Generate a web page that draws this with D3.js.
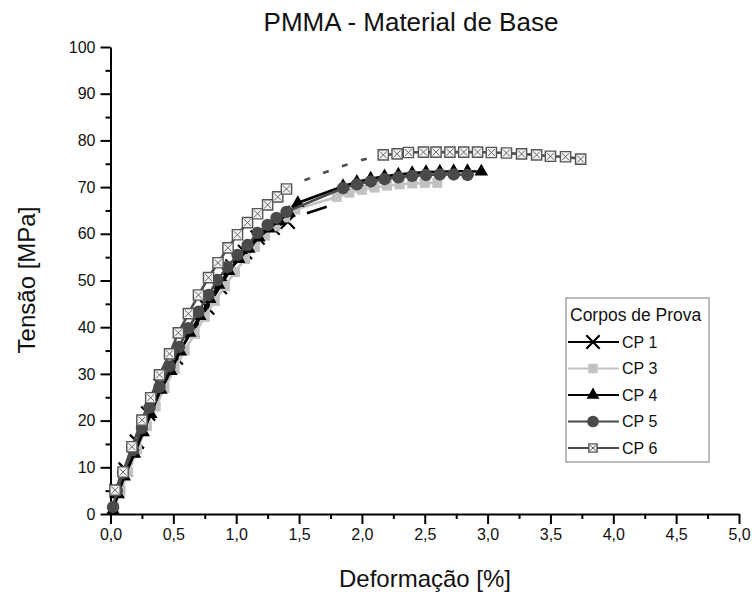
<!DOCTYPE html>
<html>
<head>
<meta charset="utf-8">
<script src="https://cdn.jsdelivr.net/npm/d3@7"></script>
<style>
  body { margin: 0; background: #fff; }
  svg text { font-family: "Liberation Sans", Arial, sans-serif; }
  .axis .domain, .axis line { stroke: #000; stroke-width: 2; }
  .axis text { font-size: 16px; fill: #111; }
</style>
</head>
<body>
<svg id="chart" width="752" height="594"></svg>
<script>
// ---- data ----
var seriesNames = ["CP 1", "CP 3", "CP 4", "CP 5", "CP 6"];
var xTicks = [0, 0.5, 1, 1.5, 2, 2.5, 3, 3.5, 4, 4.5, 5];
var xMinorTicks = [0.25, 0.75, 1.25, 1.75, 2.25, 2.75, 3.25, 3.75, 4.25, 4.75];
var yTicks = [0, 10, 20, 30, 40, 50, 60, 70, 80, 90, 100];
var yMinorTicks = [5, 15, 25, 35, 45, 55, 65, 75, 85, 95];

// strain [%] and stress [MPa] at each marker
var cp1Eps = [0.05, 0.12, 0.21, 0.30, 0.40, 0.52, 0.65, 0.77, 0.87, 0.97, 1.07, 1.17, 1.29, 1.41];
var cp1Sig = [5.0, 9.5, 15.5, 21.5, 27.5, 33.5, 39.3, 44.2, 48.6, 53.0, 56.1, 59.2, 61.3, 62.6];
var cp1GapEps = [1.56, 1.72];
var cp1GapSig = [64.4, 65.8];

var cp3Eps = [0.03, 0.08, 0.14, 0.21, 0.29, 0.36, 0.43, 0.51, 0.59, 0.67, 0.75, 0.83, 0.91, 0.99, 1.07, 1.15, 1.23, 1.31, 1.39, 1.47,
              1.80, 1.90, 2.00, 2.10, 2.20, 2.30, 2.40, 2.50, 2.60];
var cp3Sig = [1.5, 5.0, 9.0, 13.8, 18.8, 23.0, 27.0, 31.0, 35.0, 38.6, 42.2, 45.6, 48.8, 51.8, 54.6, 57.2, 59.6, 61.6, 63.5, 65.2,
              67.9, 68.8, 69.4, 69.9, 70.3, 70.6, 70.8, 70.9, 70.9];

var cp4Eps = [0.02, 0.06, 0.11, 0.19, 0.26, 0.32, 0.40, 0.48, 0.555, 0.63, 0.71, 0.79, 0.86, 0.94, 1.02, 1.10, 1.18, 1.26, 1.34, 1.42, 1.49,
              1.85, 1.96, 2.07, 2.18, 2.29, 2.40, 2.51, 2.62, 2.73, 2.84, 2.95];
var cp4Sig = [0.8, 4.2, 8.0, 12.9, 17.5, 21.4, 26.6, 30.6, 34.8, 38.8, 42.4, 46.0, 49.1, 52.0, 54.6, 56.8, 59.2, 61.1, 62.8, 64.5, 66.6,
              70.2, 71.1, 71.8, 72.3, 72.7, 73.0, 73.2, 73.3, 73.4, 73.4, 73.3];

var cp5Eps = [0.02, 0.05, 0.10, 0.18, 0.25, 0.31, 0.39, 0.47, 0.545, 0.62, 0.70, 0.78, 0.85, 0.93, 1.01, 1.09, 1.17, 1.25, 1.32, 1.40,
              1.85, 1.96, 2.07, 2.18, 2.29, 2.40, 2.51, 2.62, 2.73, 2.84];
var cp5Sig = [1.5, 5.0, 8.8, 13.7, 18.4, 22.8, 27.2, 31.6, 35.8, 39.8, 43.3, 46.9, 50.1, 52.9, 55.5, 57.6, 60.2, 61.9, 63.4, 64.7,
              69.8, 70.6, 71.2, 71.7, 72.1, 72.4, 72.6, 72.7, 72.7, 72.6];

var cp6Eps = [0.036, 0.10, 0.17, 0.25, 0.32, 0.39, 0.47, 0.54, 0.62, 0.70, 0.78, 0.855, 0.935, 1.01, 1.09, 1.17, 1.25, 1.33, 1.40,
              2.17, 2.28, 2.37, 2.49, 2.59, 2.70, 2.81, 2.92, 3.03, 3.15, 3.27, 3.39, 3.50, 3.62, 3.74];
var cp6Sig = [5.1, 9.0, 14.4, 20.1, 24.9, 29.8, 34.3, 38.8, 42.9, 46.9, 50.6, 53.8, 57.0, 59.8, 62.4, 64.3, 66.2, 67.9, 69.6,
              76.9, 77.1, 77.4, 77.5, 77.5, 77.5, 77.5, 77.5, 77.4, 77.3, 77.1, 76.9, 76.6, 76.5, 76.0];
var cp6GapEps = [1.49, 1.71, 1.90, 2.04];
var cp6GapSig = [70.9, 73.2, 75.0, 76.1];

// ---- chart ----
var series = [
  {name: seriesNames[0], eps: cp1Eps, sig: cp1Sig, gapEps: cp1GapEps, gapSig: cp1GapSig, color: "#000", marker: "x", gapDash: "0,21,21,300"},
  {name: seriesNames[1], eps: cp3Eps, sig: cp3Sig, gapEps: [], gapSig: [], color: "#c2c2c2", marker: "square"},
  {name: seriesNames[2], eps: cp4Eps, sig: cp4Sig, gapEps: [], gapSig: [], color: "#000", marker: "triangle"},
  {name: seriesNames[3], eps: cp5Eps, sig: cp5Sig, gapEps: [], gapSig: [], color: "#4a4a4a", marker: "circle"},
  {name: seriesNames[4], eps: cp6Eps, sig: cp6Sig, gapEps: cp6GapEps, gapSig: cp6GapSig, color: "#4d4d4d", marker: "xsquare", gapDash: "6,14"}
];

var svg = d3.select("#chart"),
    g = svg.append("g");

var x = d3.scaleLinear().domain([0, 5]).range([110.5, 739]);
var y = d3.scaleLinear().domain([0, 100]).range([514, 47]);

var commaFmt = function(d) { return d3.format(".1f")(d).replace(".", ","); };

// minor ticks
g.append("g")
    .attr("class", "axis")
    .attr("transform", "translate(0," + y(0) + ")")
    .call(d3.axisBottom(x).tickValues(xMinorTicks).tickSize(5).tickFormat(""))
  .select(".domain").remove();
g.append("g")
    .attr("class", "axis")
    .attr("transform", "translate(" + x(0) + ",0)")
    .call(d3.axisLeft(y).tickValues(yMinorTicks).tickSize(5).tickFormat(""))
  .select(".domain").remove();

// major axes
g.append("g")
    .attr("class", "axis axis--x")
    .attr("transform", "translate(0," + y(0) + ")")
    .call(d3.axisBottom(x).tickValues(xTicks).tickSize(10).tickSizeOuter(0).tickPadding(5).tickFormat(commaFmt));
g.append("g")
    .attr("class", "axis axis--y")
    .attr("transform", "translate(" + x(0) + ",0)")
    .call(d3.axisLeft(y).tickValues(yTicks).tickSize(10).tickSizeOuter(0).tickPadding(5).tickFormat(d3.format("d")));

// markers
function drawMarker(sel, type, k) {
  k = k || 1;
  if (type === "x") {
    sel.append("path")
        .attr("d", d3.symbol().type(d3.symbolTimes).size(130 * k * k))
        .attr("fill", "none").attr("stroke", "#000").attr("stroke-width", 2.2);
  } else if (type === "square") {
    sel.append("path")
        .attr("d", d3.symbol().type(d3.symbolSquare).size(100 * k * k))
        .attr("fill", "#c2c2c2");
  } else if (type === "triangle") {
    sel.append("path")
        .attr("d", d3.symbol().type(d3.symbolTriangle).size(80 * k * k))
        .attr("fill", "#000");
  } else if (type === "circle") {
    sel.append("path")
        .attr("d", d3.symbol().type(d3.symbolCircle).size(120 * k * k))
        .attr("fill", "#4a4a4a");
  } else if (type === "xsquare") {
    sel.append("path")
        .attr("d", d3.symbol().type(d3.symbolSquare).size(105 * k * k))
        .attr("fill", "#f2f2f2").attr("stroke", "#555").attr("stroke-width", 1.4);
    sel.append("path")
        .attr("d", d3.symbol().type(d3.symbolTimes).size(34 * k * k))
        .attr("fill", "none").attr("stroke", "#666").attr("stroke-width", 1);
  }
}

var line = d3.line()
    .x(function(d) { return x(d[0]); })
    .y(function(d) { return y(d[1]); });

series.forEach(function(s) {
  var pts = s.eps.map(function(e, i) { return [e, s.sig[i]]; }),
      gap = s.gapEps.map(function(e, i) { return [e, s.gapSig[i]]; }),
      sg = g.append("g").attr("class", "series");

  var solid = [pts];
  if (gap.length) {
    var pre = pts.filter(function(d) { return d[0] < gap[0][0]; }),
        post = pts.filter(function(d) { return d[0] > gap[gap.length - 1][0]; }),
        gp = [pre[pre.length - 1]].concat(gap);
    if (post.length) gp.push(post[0]);
    solid = [pre, post];
    sg.append("path")
        .attr("d", line(gp))
        .attr("fill", "none")
        .attr("stroke", s.color)
        .attr("stroke-width", 2.6)
        .attr("stroke-dasharray", s.gapDash);
  }
  solid.forEach(function(p) {
    if (p.length < 2) return;
    sg.append("path")
        .attr("d", line(p))
        .attr("fill", "none")
        .attr("stroke", s.color)
        .attr("stroke-width", 2.6);
  });

  sg.selectAll(".mk")
      .data(pts)
      .enter().append("g")
        .attr("class", "mk")
        .attr("transform", function(d) { return "translate(" + x(d[0]) + "," + y(d[1]) + ")"; })
        .each(function() { drawMarker(d3.select(this), s.marker); });
});

// titles
svg.append("text")
    .attr("x", 411).attr("y", 31)
    .attr("text-anchor", "middle")
    .style("font-size", "26px").attr("fill", "#111")
    .text("PMMA - Material de Base");
svg.append("text")
    .attr("x", 425).attr("y", 587)
    .attr("text-anchor", "middle")
    .style("font-size", "24px").attr("fill", "#111")
    .text("Deformação [%]");
svg.append("text")
    .attr("transform", "translate(35,280) rotate(-90)")
    .attr("text-anchor", "middle")
    .style("font-size", "24px").attr("fill", "#111")
    .text("Tensão [MPa]");

// legend
var lg = svg.append("g").attr("transform", "translate(566,298)");
lg.append("rect")
    .attr("width", 143).attr("height", 164)
    .attr("fill", "#fff").attr("stroke", "#777").attr("stroke-width", 1);
lg.append("text")
    .attr("x", 4).attr("y", 23)
    .style("font-size", "17.5px").attr("fill", "#111")
    .text("Corpos de Prova");

var item = lg.selectAll(".legend")
    .data(series)
    .enter().append("g")
      .attr("class", "legend")
      .attr("transform", function(d, i) { return "translate(0," + (44 + i * 26.5) + ")"; });
item.append("line")
    .attr("x1", 2).attr("x2", 53)
    .attr("stroke", function(d) { return d.color; })
    .attr("stroke-width", 2.2);
item.append("g")
    .attr("transform", "translate(27,0)")
    .each(function(d) { drawMarker(d3.select(this), d.marker, d.marker === "xsquare" ? 0.8 : 0.95); });
item.append("text")
    .attr("x", 56).attr("dy", "0.35em")
    .style("font-size", "16px").attr("fill", "#111")
    .text(function(d) { return d.name; });
</script>
</body>
</html>
